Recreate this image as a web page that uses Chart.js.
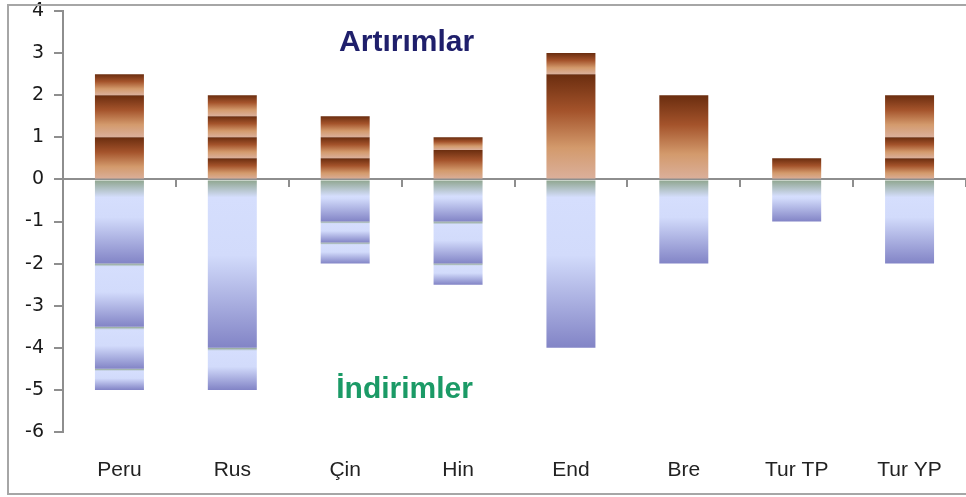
<!DOCTYPE html>
<html>
<head>
<meta charset="utf-8">
<script src="https://cdn.jsdelivr.net/npm/chart.js@4/dist/chart.umd.min.js"></script>
<style>
  html, body { margin: 0; padding: 0; background: #ffffff; overflow: hidden; }
  #wrap { position: relative; width: 966px; height: 497px; }
  #c { position: absolute; left: 0; top: 0; }
  #frame { position: absolute; left: 7px; top: 4px; width: 980px; height: 487px;
           border-left: 2px solid #a6a6a6; border-top: 2px solid #a6a6a6; border-bottom: 2px solid #a6a6a6;
           pointer-events: none; }
</style>
</head>
<body>
<div id="wrap">
  <canvas id="c" width="966" height="497"></canvas>
  <div id="frame"></div>
</div>
<script>
// ---- data ----
const categories = ["Peru", "Rus", "Çin", "Hin", "End", "Bre", "Tur TP", "Tur YP"];
// increases (stacked upward from 0)
const artis1 = [1.0, 0.5, 0.5, 0.7, 2.5, 2.0, 0.5, 0.5];
const artis2 = [1.0, 0.5, 0.5, 0.3, 0.5, null, null, 0.5];
const artis3 = [0.5, 0.5, 0.5, null, null, null, null, 1.0];
const artis4 = [null, 0.5, null, null, null, null, null, null];
// decreases (stacked downward from 0)
const indirim1 = [-2.0, -4.0, -1.0, -1.0, -4.0, -2.0, -1.0, -2.0];
const indirim2 = [-1.5, -1.0, -0.5, -1.0, null, null, null, null];
const indirim3 = [-1.0, null, -0.5, -0.5, null, null, null, null];
const indirim4 = [-0.5, null, null, null, null, null, null, null];
const yTicks = { min: -6, max: 4, step: 1 };
const labelUp = "Artırımlar";
const labelDown = "İndirimler";

const posSeries = [artis1, artis2, artis3, artis4];
const negSeries = [indirim1, indirim2, indirim3, indirim4];

function segStart(series, layer, idx) {
  let s = 0;
  for (let k = 0; k < layer; k++) { const v = series[k][idx]; if (v != null) s += v; }
  return s;
}

function posFill(layer) {
  return function(ctx) {
    const chart = ctx.chart;
    if (!chart.chartArea || !chart.scales.y) return '#b5673a';
    const i = ctx.dataIndex;
    const v = posSeries[layer][i];
    if (v == null) return '#b5673a';
    const s = segStart(posSeries, layer, i);
    const y = chart.scales.y;
    const top = y.getPixelForValue(s + v), bot = y.getPixelForValue(s);
    if (!isFinite(top) || !isFinite(bot) || top === bot) return '#b5673a';
    const g = chart.ctx.createLinearGradient(0, top, 0, bot);
    g.addColorStop(0, '#6a2d0f');
    g.addColorStop(0.35, '#a4532b');
    g.addColorStop(0.7, '#d39a6c');
    g.addColorStop(1, '#dbb09c');
    return g;
  };
}

function negFill(layer) {
  return function(ctx) {
    const chart = ctx.chart;
    if (!chart.chartArea || !chart.scales.y) return '#b0b8ec';
    const i = ctx.dataIndex;
    const v = negSeries[layer][i];
    if (v == null) return '#b0b8ec';
    const s = segStart(negSeries, layer, i);
    const y = chart.scales.y;
    const top = y.getPixelForValue(s), bot = y.getPixelForValue(s + v);
    const h = bot - top;
    if (!isFinite(h) || h <= 0) return '#b0b8ec';
    const g = chart.ctx.createLinearGradient(0, top, 0, bot);
    const green = layer === 0 ? Math.min(0.4, 18 / h) : Math.min(0.1, 3 / h);
    g.addColorStop(0, '#8ca38a');
    g.addColorStop(green, '#d5defd');
    g.addColorStop(Math.max(green + 0.05, 0.45), '#d2dbfb');
    g.addColorStop(1, '#8284c6');
    return g;
  };
}

const datasets = [];
posSeries.forEach((arr, k) => datasets.push({
  label: 'artis' + (k + 1), data: arr, stack: 's',
  backgroundColor: posFill(k), borderWidth: 0,
  barPercentage: 0.434, categoryPercentage: 1.0
}));
negSeries.forEach((arr, k) => datasets.push({
  label: 'indirim' + (k + 1), data: arr, stack: 's',
  backgroundColor: negFill(k), borderWidth: 0,
  barPercentage: 0.434, categoryPercentage: 1.0
}));

const textPlugin = {
  id: 'sideTexts',
  afterDatasetsDraw(chart) {
    const c = chart.ctx, x = chart.scales.x, y = chart.scales.y;
    const cx = (x.getPixelForValue(2) + x.getPixelForValue(3)) / 2 + 5;
    c.save();
    c.textAlign = 'center';
    c.textBaseline = 'middle';
    c.font = 'bold 30px "Liberation Sans", Arial, sans-serif';
    c.fillStyle = '#1f1f6b';
    c.fillText(labelUp, cx, y.getPixelForValue(3.25));
    c.fillStyle = '#1b9a66';
    c.fillText(labelDown, cx - 2, y.getPixelForValue(-5.0));
    c.restore();
  }
};

new Chart(document.getElementById('c'), {
  type: 'bar',
  data: { labels: categories, datasets: datasets },
  plugins: [textPlugin],
  options: {
    responsive: false,
    animation: false,
    events: [],
    layout: { padding: { left: 8, top: 11, right: 0, bottom: 0 } },
    plugins: { legend: { display: false }, tooltip: { enabled: false } },
    scales: {
      x: {
        axis: 'x',
        type: 'category',
        stacked: true,
        offset: true,
        position: { y: 0 },
        ticks: { display: false },
        grid: { offset: true, drawOnChartArea: false, drawTicks: true, tickLength: 7,
                color: '#8e8e8e', lineWidth: 2 },
        border: { display: true, color: '#8e8e8e', width: 2 },
        afterFit(s) { s.paddingLeft = 0; s.paddingRight = 0; }
      },
      x2: {
        axis: 'x',
        type: 'category',
        labels: categories,
        offset: true,
        position: 'bottom',
        grid: { display: false, drawTicks: false },
        border: { display: false },
        ticks: {
          padding: 26,
          color: '#222222',
          maxRotation: 0,
          autoSkip: false,
          font: { family: '"Liberation Sans", Arial, sans-serif', size: 21 }
        },
        afterFit(s) { s.height = 65; s.paddingLeft = 0; s.paddingRight = 0; }
      },
      y: {
        stacked: true,
        min: yTicks.min,
        max: yTicks.max,
        ticks: {
          stepSize: yTicks.step,
          padding: 10,
          color: '#1a1a1a',
          font: { family: '"DejaVu Sans", Verdana, sans-serif', size: 19 }
        },
        grid: { drawOnChartArea: false, drawTicks: true, tickLength: 9, color: '#8e8e8e', lineWidth: 2 },
        border: { display: true, color: '#8e8e8e', width: 2 },
        afterFit(s) { s.width = 55; s.paddingTop = 0; s.paddingBottom = 0; }
      }
    }
  }
});
</script>
</body>
</html>
